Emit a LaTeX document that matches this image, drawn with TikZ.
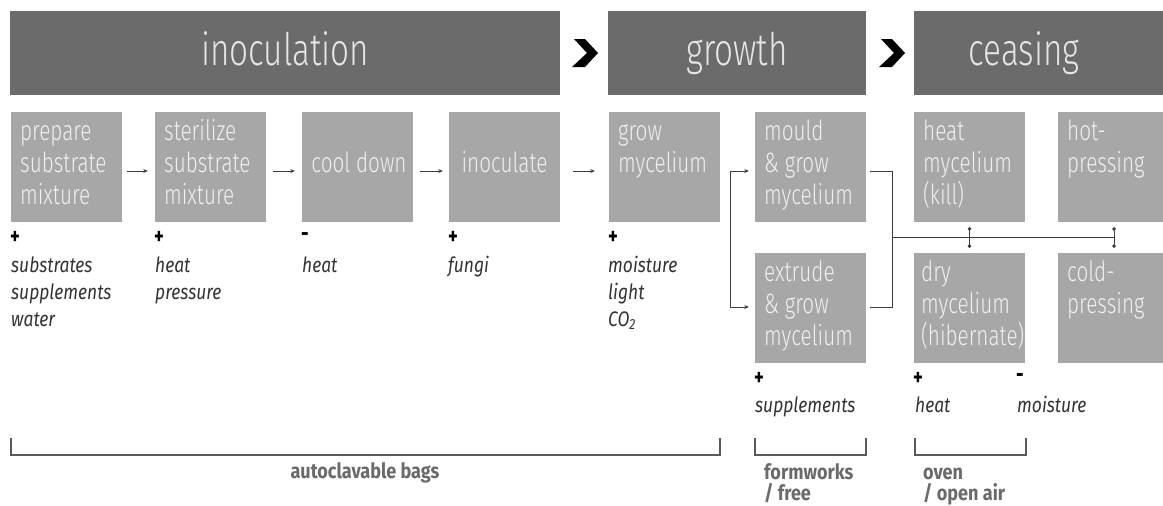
\documentclass[tikz,border=0pt]{standalone}
\usepackage{fontspec}
\setmainfont{Fira Sans}[FakeStretch=0.77]
\newfontfamily\lightfont{Fira Sans Light}[FakeStretch=0.74]
\newfontfamily\lblfont{Fira Sans}[FakeStretch=0.83]
\newfontfamily\brkfont{Fira Sans}[FakeStretch=0.86]
\usetikzlibrary{arrows.meta}
\definecolor{hdgray}{HTML}{6B6B6B}
\definecolor{bxgray}{HTML}{A7A7A7}
\definecolor{bxtext}{HTML}{F0F0F0}
\definecolor{hdtext}{HTML}{E6E6E6}
\definecolor{lbltext}{HTML}{333333}
\definecolor{lncol}{HTML}{3C3C3C}
\definecolor{brkcol}{HTML}{5A5A5A}
\definecolor{brktext}{HTML}{6A6A6A}
\newcommand{\mlines}[1]{\parbox[t]{130pt}{\raggedright #1}}
\tikzset{
  header/.style={fill=hdgray, draw=none, minimum height=84pt, inner sep=0pt,
    text=hdtext, font=\lightfont\fontsize{45}{45}\selectfont, text height=24pt, text depth=0pt},
  stepbox/.style={fill=bxgray, draw=none, minimum width=111pt, minimum height=110pt, inner sep=0pt},
  boxtxt/.style={anchor=base west, inner sep=0pt, text=bxtext, font=\lightfont\fontsize{28}{32}\selectfont},
  boxctr/.style={anchor=base, inner sep=0pt, text=bxtext, font=\lightfont\fontsize{28}{32}\selectfont},
  lbl/.style={anchor=base west, inner sep=0pt, text=lbltext, font=\lblfont\itshape\fontsize{21}{27}\selectfont},
  pm/.style={inner sep=0pt, text=black, font=\bfseries\fontsize{24}{24}\selectfont},
  brklbl/.style={inner sep=0pt, text=brktext, font=\brkfont\bfseries\fontsize{21}{21}\selectfont},
  ln/.style={draw=lncol, line width=1pt},
  arr/.style={ln, -{Stealth[length=4.5pt,width=4pt]}},
  dotc/.style={ln, {Circle[length=3.5pt]}-{Circle[length=3.5pt]}, shorten <=5pt, shorten >=5pt},
  brk/.style={draw=brkcol, line width=1.3pt},
  chev/.style={fill=black, draw=none}
}
\begin{document}
\begin{tikzpicture}[x=1pt,y=-1pt]
\useasboundingbox (0,0) rectangle (1163,506);
% headers
\node[header, minimum width=550pt] (h1) at (285,53) {inoculation};
\node[header, minimum width=258pt] (h2) at (737,53) {growth};
\node[header, minimum width=249pt] (h3) at (1038.5,53) {ceasing\hspace*{29pt}};
% chevrons
\fill[chev] (574,39) -- (585,39) -- (598,53) -- (585,67) -- (572,67) -- (587,53) -- cycle;
\fill[chev] (881,39) -- (892,39) -- (905,53) -- (892,67) -- (879,67) -- (894,53) -- cycle;
% step boxes
\node[stepbox] (prep) at (66.5,167) {};
\node[stepbox] (ster) at (210.5,167) {};
\node[stepbox] (cool) at (357.5,167) {};
\node[stepbox] (inoc) at (504.5,167) {};
\node[stepbox] (grow) at (664.5,167) {};
\node[stepbox] (mould) at (810.5,167) {};
\node[stepbox] (extr) at (810.5,308) {};
\node[stepbox] (heat) at (969.5,167) {};
\node[stepbox] (dry) at (969.5,308) {};
\node[stepbox, minimum width=112pt] (hot) at (1114,167) {};
\node[stepbox, minimum width=112pt] (cold) at (1114,308) {};
% box texts
\node[boxtxt] (prep-t) at (20,140) {\mlines{prepare\\substrate\\mixture}};
\node[boxtxt] (ster-t) at (164,140) {\mlines{sterilize\\substrate\\mixture}};
\node[boxctr] (cool-t) at (359,172) {cool down};
\node[boxctr] (inoc-t) at (504.5,172) {inoculate};
\node[boxtxt] (grow-t) at (618,140) {\mlines{grow\\mycelium}};
\node[boxtxt] (mould-t) at (764,140) {\mlines{mould\\\& grow\\mycelium}};
\node[boxtxt] (extr-t) at (764,281) {\mlines{extrude\\\& grow\\mycelium}};
\node[boxtxt] (heat-t) at (923,140) {\mlines{heat\\mycelium\\(kill)}};
\node[boxtxt] (dry-t) at (921,281) {\mlines{dry\\mycelium\\(hibernate)}};
\node[boxtxt] (hot-t) at (1067,140) {\mlines{hot-\\pressing}};
\node[boxtxt] (cold-t) at (1067,281) {\mlines{cold-\\pressing}};
% arrows between steps
\draw[arr, shorten <=5pt, shorten >=7pt] ([yshift=-4pt]prep.east) -- ([yshift=-4pt]ster.west);
\draw[arr, shorten <=7pt, shorten >=7pt] ([yshift=-4pt]ster.east) -- ([yshift=-4pt]cool.west);
\draw[arr, shorten <=7pt, shorten >=6pt] ([yshift=-4pt]cool.east) -- ([yshift=-4pt]inoc.west);
\draw[arr, shorten <=13pt, shorten >=14pt] ([yshift=-4pt]inoc.east) -- ([yshift=-4pt]grow.west);
% branch
\coordinate (bt) at (730,171);
\coordinate (bb) at (730,307);
\draw[ln] (bt) -- (bb);
\draw[arr, shorten >=6pt] (bt) -- (bt -| mould.west);
\draw[arr, shorten >=6pt] (bb) -- (bb -| extr.west);
% merge
\coordinate (mt) at (892,171);
\coordinate (mb) at (892,307);
\draw[ln, shorten <=4pt, shorten >=4pt] (mt -| mould.east) -- (mt) -- (mb) -- (mb -| extr.east);
\coordinate (jl) at (892,237);
\coordinate (jr) at (1114,237);
\draw[ln] (jl) -- (jr);
\draw[dotc] (heat.south) -- (dry.north);
\draw[dotc] (hot.south) -- (cold.north);
% plus / minus
\node[pm] (pm1) at (15,238) {+};
\node[pm] (pm2) at (159,238) {+};
\node[pm] (pm3) at (305,237) {-};
\node[pm] (pm4) at (453,238) {+};
\node[pm] (pm5) at (613,238) {+};
\node[pm] (pm6) at (759,379) {+};
\node[pm] (pm7) at (918,379) {+};
\node[pm] (pm8) at (1020,378) {-};
% labels
\node[lbl] (l1) at (11,272) {\mlines{substrates\\supplements\\water}};
\node[lbl] (l2) at (155,272) {\mlines{heat\\pressure}};
\node[lbl] (l3) at (302,272) {heat};
\node[lbl] (l4) at (448,272) {fungi};
\node[lbl] (l5) at (608,272) {\mlines{moisture\\light\\CO\textsubscript{2}}};
\node[lbl] (l6) at (755,412) {supplements};
\node[lbl] (l7) at (915,412) {heat};
\node[lbl] (l8) at (1017,412) {moisture};
% brackets
\draw[brk] (11,438) -- (11,455) -- (720,455) -- (720,438);
\draw[brk] (755,438) -- (755,455) -- (866,455) -- (866,438);
\draw[brk] (915,438) -- (915,455) -- (1026,455) -- (1026,438);
\node[brklbl, anchor=base] (b1) at (365,478) {autoclavable bags};
\node[brklbl, anchor=base west] (b2) at (764,479) {\parbox[t]{120pt}{\raggedright formworks\\/ free}};
\node[brklbl, anchor=base west] (b3) at (923,479) {\parbox[t]{120pt}{\raggedright oven\\/ open air}};
\end{tikzpicture}
\end{document}
